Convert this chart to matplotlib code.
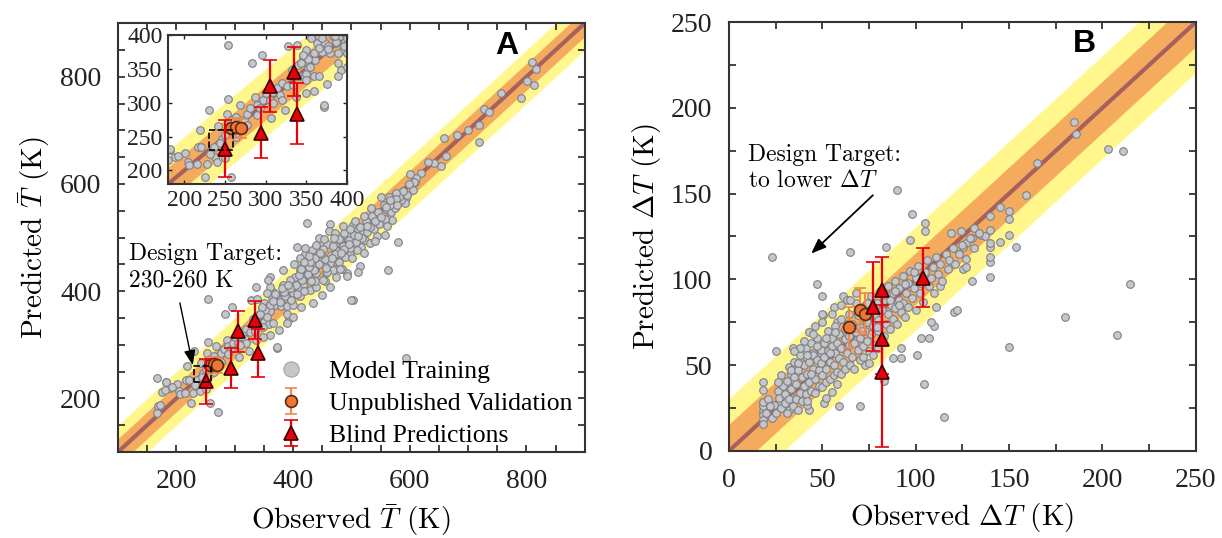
import numpy as np
import matplotlib.pyplot as plt
from matplotlib.patches import Rectangle
from matplotlib.lines import Line2D
from matplotlib.ticker import MultipleLocator

plt.rcParams['mathtext.fontset'] = 'cm'
plt.rcParams['font.family'] = ['Liberation Serif', 'DejaVu Serif']
plt.rcParams['axes.unicode_minus'] = False

# ---------------- panel A: mean temperature ----------------
train_a = [
    # zoomed region 180-400
    (182, 230), (189, 220), (201, 226), (205, 213), (206, 208), (215, 210), (219, 260),
    (217, 235), (221, 234), (225, 191), (230, 289), (228, 210), (236, 235), (238, 220),
    (240, 213), (242, 265), (246, 247), (250, 252), (254, 306), (254, 385), (252, 284),
    (250, 218), (258, 191), (258, 274), (264, 279), (268, 297), (273, 274), (277, 284),
    (281, 292), (283, 358), (287, 309), (289, 297), (293, 292), (297, 304), (295, 370),
    (301, 314), (305, 304), (307, 277), (309, 316), (314, 321), (318, 311), (320, 329),
    (324, 289), (326, 324), (328, 383), (332, 348), (334, 326), (338, 385), (340, 356),
    (342, 339), (346, 368), (350, 378), (352, 351), (357, 371), (361, 363), (363, 388),
    (365, 398), (369, 375), (372, 294), (373, 388), (377, 383), (379, 373), (383, 398),
    (387, 388), (391, 398), (393, 348), (395, 378), (397, 390), (399, 398), (389, 373),
    (350, 343), (359, 339), (338, 339), (320, 304), (309, 299), (289, 282), (277, 267),
    (266, 262), (264, 250), (244, 240), (232, 225),
    # low end
    (169, 185), (166, 172), (172, 188), (175, 212), (167, 237), (180, 215), (192, 222),
    (183, 231), (272, 175),
    # main cloud
    (423, 527), (463, 525), (462, 513), (406, 482), (433, 477), (446, 486), (458, 488),
    (473, 490), (480, 495), (492, 502), (503, 523), (512, 515), (520, 508), (523, 495),
    (517, 483), (509, 477), (497, 470), (489, 463), (476, 455), (463, 452), (454, 446),
    (443, 458), (434, 463), (424, 458), (417, 449), (412, 439), (403, 427), (394, 421),
    (383, 411), (361, 427), (382, 439), (360, 408), (369, 395), (377, 380), (360, 374),
    (352, 365), (343, 358), (355, 352), (337, 340), (349, 334), (366, 340), (389, 358),
    (400, 374), (412, 390), (429, 402), (440, 408), (454, 418), (463, 408), (449, 393),
    (434, 377), (414, 371), (400, 352), (389, 340), (375, 327), (360, 318), (349, 315),
    (337, 309), (372, 296), (474, 427), (492, 433), (514, 446), (512, 436), (483, 442),
    (469, 439), (457, 433), (440, 433), (432, 421), (423, 430), (417, 411), (409, 405),
    (400, 396), (386, 390), (563, 439), (502, 383), (492, 428), (531, 489), (543, 502),
    (537, 517), (543, 526), (529, 533), (543, 542), (554, 545), (560, 554), (569, 533),
    (557, 505), (580, 492), (571, 564), (577, 576), (589, 587), (594, 573), (591, 564),
    (606, 589), (609, 604), (500, 384), (594, 275), (337, 408), (357, 421),
    (405, 412), (415, 420), (425, 432), (435, 440), (445, 450), (455, 460), (465, 468),
    (475, 475), (485, 485), (495, 495), (505, 505), (515, 520), (525, 530), (535, 540),
    (545, 548), (555, 560), (565, 575), (428, 445), (438, 462), (448, 470), (468, 485),
    (478, 498), (488, 508), (498, 515), (418, 400), (438, 418), (458, 436), (478, 455),
    (498, 480), (518, 500), (538, 515), (548, 525), (558, 535), (568, 548), (575, 555),
    (585, 570), (595, 580), (452, 478), (472, 470), (487, 478), (507, 492), (527, 510),
    (540, 530), (395, 405), (385, 398), (410, 430), (420, 470), (445, 500),
    (401, 451), (411, 462), (421, 481), (431, 419), (451, 421), (471, 509), (481, 441),
    (501, 461), (521, 471), (531, 519), (541, 494), (561, 521), (551, 576), (470, 500),
    (456, 444), (446, 471), (429, 455), (414, 441), (406, 394), (396, 384), (381, 406),
    (366, 381), (356, 396), (346, 371), (486, 521), (506, 531), (521, 541), (534, 556),
    (551, 539), (566, 561), (581, 576), (392, 412), (427, 466), (453, 497), (467, 462),
    (482, 471), (496, 487), (512, 503), (526, 522), (439, 486), (418, 455),
    # upper end
    (810, 828), (816, 814), (813, 785), (791, 760), (727, 739), (735, 734), (719, 710),
    (719, 679), (681, 691), (658, 685), (653, 634), (642, 639), (620, 621), (610, 611),
    (608, 604), (599, 600), (589, 586), (577, 583), (576, 571), (578, 561), (566, 570),
    (560, 557), (601, 619), (631, 641), (662, 652), (699, 701), (757, 769), (801, 792),
]
val_a_x = [257, 264, 270]
val_a_y = [262, 264, 262]
val_a_err = [14, 14, 14]
blind_a_x = [250, 294, 305, 335, 339]
blind_a_y = [232, 256, 325, 346, 284]
blind_a_err = [42, 37, 38, 36, 45]

# ---------------- panel B: temperature span ----------------
train_b = [
    # sparse / outliers
    (185, 192), (186, 184.5), (203, 176), (211, 175), (165, 168), (159, 149), (90, 152),
    (98, 138), (105, 133), (105, 128), (97, 123), (84, 119), (65, 116), (23, 113), (47, 97),
    (50, 90.5), (215, 97), (180, 78), (208, 67.5), (150, 60.6), (115, 20), (104.6, 39),
    (100.5, 56), (103, 66), (107, 66), (110, 73), (108, 75), (111, 84), (120.5, 81),
    (122, 82), (130, 99), (125.5, 106), (127, 107), (113, 96), (140, 101.5), (140, 110),
    (140, 113), (140, 119), (140, 121), (145, 122), (150, 126), (153.6, 119),
    (150, 135), (150, 140), (145, 142), (140, 137), (140, 129), (135, 126), (137, 125),
    (131, 130), (124, 128), (119, 127), (130, 124), (127, 121), (125.5, 119), (92, 54),
    (88, 54), (92, 60), (83, 41), (70, 26), (59, 26), (43, 24), (42, 27), (51, 28), (52, 31),
    (55, 34.5), (58, 39), (73, 50), (75, 51), (18, 23.5), (18, 21), (18, 26), (18, 28.5),
    (18, 35.5), (18, 40), (18, 18), (18, 15.5), (25, 58), (32, 24), (29, 29), (27, 29),
    (34, 60), (32, 49), (33, 45), (34, 41), (31, 39), (43, 69.5), (46, 73), (56, 84),
    (61, 90), (63, 88), (68, 92), (50.5, 79), (49.6, 80), (57.6, 75), (49, 57), (45, 57),
    (41, 55),
    # dense cloud
    (24, 27), (26, 35), (27, 31), (29, 38), (28, 44), (30, 33), (31, 41), (33, 36),
    (33, 47), (34, 31), (35, 43), (35, 52), (36, 39), (37, 47), (38, 34), (38, 56),
    (39, 43), (40, 50), (40, 38), (41, 60), (42, 45), (43, 52), (43, 40), (44, 63),
    (45, 48), (45, 56), (46, 42), (47, 53), (47, 66), (48, 47), (49, 59), (49, 51),
    (50, 44), (51, 63), (51, 55), (52, 48), (53, 70), (53, 58), (54, 52), (55, 61),
    (55, 66), (56, 50), (57, 57), (57, 73), (58, 63), (59, 54), (59, 68), (60, 60),
    (60, 77), (61, 52), (62, 65), (62, 71), (63, 57), (64, 62), (64, 80), (65, 68),
    (66, 55), (66, 74), (67, 63), (68, 69), (68, 86), (69, 59), (70, 72), (70, 66),
    (71, 78), (72, 61), (72, 84), (73, 70), (74, 75), (74, 64), (75, 81), (76, 68),
    (76, 90), (77, 73), (78, 79), (78, 62), (79, 86), (80, 70), (80, 76), (81, 93),
    (82, 82), (83, 67), (83, 88), (84, 74), (85, 96), (85, 80), (86, 71), (87, 85),
    (87, 91), (88, 77), (89, 99), (89, 83), (90, 74), (91, 88), (91, 95), (92, 81),
    (93, 102), (93, 86), (94, 78), (95, 92), (96, 98), (96, 84), (97, 105), (98, 89),
    (99, 95), (100, 82), (100, 101), (101, 108), (102, 92), (103, 98), (104, 87),
    (105, 104), (106, 111), (107, 96), (108, 101), (109, 107), (110, 92), (111, 113),
    (112, 103), (113, 109), (114, 99), (116, 115), (117, 106), (118, 111), (120, 118),
    (121, 109), (123, 115), (125, 120), (127, 112), (129, 124), (131, 118), (134, 127),
    (20, 22), (21, 30), (22, 26), (23, 19), (25, 22), (26, 40), (28, 25), (30, 28),
    (31, 22), (32, 30), (34, 26), (36, 30), (37, 24), (39, 29), (41, 33), (42, 29),
    (44, 35), (46, 34), (48, 38), (50, 37), (52, 40), (54, 42), (56, 44), (58, 46),
    (60, 45), (62, 48), (65, 50), (67, 48), (70, 53), (72, 55), (75, 58), (77, 56),
    (80, 60), (45, 68), (40, 64), (38, 60), (35, 58), (50, 75), (55, 80), (60, 85),
    (65, 88), (37, 51), (42, 56), (47, 61), (52, 66), (57, 69), (63, 74), (69, 79),
    (74, 86), (79, 72), (84, 91), (89, 93), (94, 97), (99, 104), (44, 45), (54, 57),
    (64, 67), (71, 70), (86, 88), (91, 85),
]
val_b_x = [64, 70, 73]
val_b_y = [72, 82, 80]
val_b_err = [12, 13, 12]
blind_b_x = [77, 82, 82, 82, 104]
blind_b_y = [84, 94, 65, 46, 101]
blind_b_err = [26, 19, 20, 44, 17]

YELLOW = '#fff78c'
ORANGE = '#f5ab5e'
LINE = '#a6605e'
GRAY_FACE = '#c5c7cb'
GRAY_EDGE = '#7e8086'
RED = '#e8000b'
ORANGE_PT = '#f07634'
ORANGE_ERR = '#f0884e'


def draw_panel(ax, lo, hi, inner, outer, train, vx, vy, ve, bx, by, be):
    ends = np.array([lo - outer, hi + outer])
    ax.fill_between(ends, ends - outer, ends + outer, color=YELLOW, lw=0, zorder=0)
    ax.fill_between(ends, ends - inner, ends + inner, color=ORANGE, lw=0, zorder=0.5)
    ax.plot(ends, ends, color=LINE, lw=3, zorder=1)
    tx, ty = np.array(train, dtype=float).T
    ax.plot(tx, ty, 'o', ms=5.5, mfc=GRAY_FACE, mec=GRAY_EDGE, mew=0.8, ls='none', zorder=2)
    v = ax.errorbar(vx, vy, yerr=ve, fmt='o', ms=8.5, mfc=ORANGE_PT, mec='#5a2a10', mew=1.2,
                    ecolor=ORANGE_ERR, elinewidth=1.6, capsize=4.5, capthick=1.6, zorder=3)
    b = ax.errorbar(bx, by, yerr=be, fmt='^', ms=10.5, mfc=RED, mec='#3c0000', mew=1.2,
                    ecolor=RED, elinewidth=1.6, capsize=5, capthick=1.6, zorder=4)
    ax.set_xlim(lo, hi)
    ax.set_ylim(lo, hi)
    for s in ax.spines.values():
        s.set_linewidth(1.5)
        s.set_color('#333333')
    return v, b


fig = plt.figure(figsize=(12.22, 5.38), dpi=100)
axA = fig.add_axes([0.0966, 0.160, 0.382, 0.797])
axB = fig.add_axes([0.5966, 0.162, 0.382, 0.797])

vA, bA = draw_panel(axA, 100, 900, 25, 50, train_a, val_a_x, val_a_y, val_a_err,
                    blind_a_x, blind_a_y, blind_a_err)
axA.xaxis.set_major_locator(MultipleLocator(200))
axA.yaxis.set_major_locator(MultipleLocator(200))
axA.xaxis.set_minor_locator(MultipleLocator(50))
axA.yaxis.set_minor_locator(MultipleLocator(50))
axA.add_patch(Rectangle((230, 230), 30, 30, fill=False, ls='--', lw=1.2, ec='k', zorder=5))

vB, bB = draw_panel(axB, 0, 250, 15, 30, train_b, val_b_x, val_b_y, val_b_err,
                    blind_b_x, blind_b_y, blind_b_err)
axB.xaxis.set_major_locator(MultipleLocator(50))
axB.yaxis.set_major_locator(MultipleLocator(50))
axB.xaxis.set_minor_locator(MultipleLocator(25))
axB.yaxis.set_minor_locator(MultipleLocator(25))

for ax in (axA, axB):
    ax.tick_params(which='both', direction='in', top=True, right=True, length=5, width=1.2,
                   labelsize=20, pad=12, colors='#222222')

axA.set_xlabel(r'Observed $\bar{T}$ (K)', family='cmr10', fontsize=21, labelpad=6)
axA.set_ylabel(r'Predicted $\bar{T}$ (K)', family='cmr10', fontsize=21, labelpad=6)
axB.set_xlabel(r'Observed $\Delta T$ (K)', family='cmr10', fontsize=21, labelpad=6)
axB.set_ylabel(r'Predicted $\Delta T$ (K)', family='cmr10', fontsize=21, labelpad=6)

axA.text(0.833, 0.946, 'A', transform=axA.transAxes, fontsize=23, fontweight='bold',
         family='Liberation Sans', ha='center', va='center')
axB.text(0.762, 0.948, 'B', transform=axB.transAxes, fontsize=23, fontweight='bold',
         family='Liberation Sans', ha='center', va='center')

axA.text(119, 490, 'Design Target:\n230-260 K', family='cmr10', fontsize=17,
         ha='left', va='top', linespacing=1.25)
axA.annotate('', xy=(228, 262), xytext=(206, 378),
             arrowprops=dict(arrowstyle='-|>,head_length=0.9,head_width=0.35',
                             color='k', lw=1.0, shrinkA=0, shrinkB=0), zorder=6)
axB.text(10, 179, 'Design Target:\nto lower $\\Delta T$', family='cmr10', fontsize=17,
         ha='left', va='top', linespacing=1.25)
axB.annotate('', xy=(44, 115), xytext=(77, 149),
             arrowprops=dict(arrowstyle='-|>,head_length=0.9,head_width=0.35',
                             color='k', lw=1.3, shrinkA=0, shrinkB=0), zorder=6)

# legend
train_handle = Line2D([], [], marker='o', ls='none', ms=11, mfc=GRAY_FACE, mec='#a0a2a6', mew=0.8)
axA.legend([train_handle, vA, bA], ['Model Training', 'Unpublished Validation', 'Blind Predictions'],
           loc='lower right', bbox_to_anchor=(0.985, 0.0), frameon=False, fontsize=18.5,
           labelspacing=0.35, handletextpad=0.9, borderaxespad=0.0, borderpad=0.2,
           handlelength=1.2)

# inset
axI = fig.add_axes([0.1375, 0.658, 0.1465, 0.277])
axI.set_facecolor('white')
draw_panel(axI, 180, 400, 25, 50, train_a, val_a_x, val_a_y, val_a_err,
           blind_a_x, blind_a_y, blind_a_err)
axI.add_patch(Rectangle((230, 230), 30, 30, fill=False, ls='--', lw=1.2, ec='k', zorder=5))
axI.xaxis.set_major_locator(MultipleLocator(50))
axI.yaxis.set_major_locator(MultipleLocator(50))
axI.tick_params(which='both', direction='in', top=True, right=True, length=3, width=1.0,
                labelsize=17, pad=4, colors='#222222')
axI.set_zorder(10)

fig.savefig('out.png', dpi=100)
